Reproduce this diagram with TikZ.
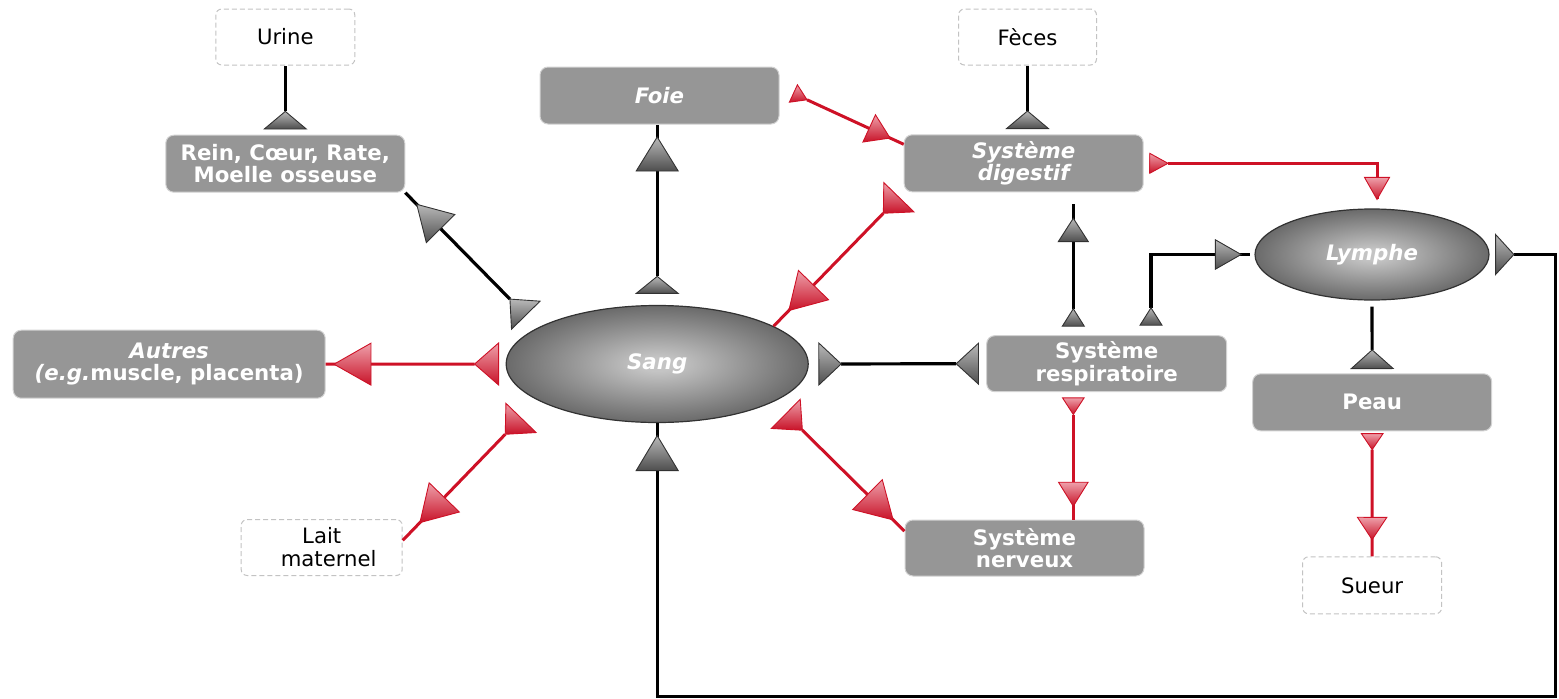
\documentclass[tikz,border=0pt]{standalone}
\usepackage{fontspec}
\setmainfont{DejaVu Sans}
\usetikzlibrary{calc,shapes.geometric}

\definecolor{boxgray}{RGB}{150,150,150}
\definecolor{boxedge}{RGB}{210,210,210}
\definecolor{linkred}{RGB}{206,17,38}
\definecolor{dashgray}{RGB}{195,195,195}
\definecolor{ellin}{RGB}{196,196,196}
\definecolor{ellout}{RGB}{86,86,86}
\definecolor{elledge}{RGB}{50,50,50}
\definecolor{trilight}{RGB}{185,185,185}
\definecolor{tridark}{RGB}{78,78,78}
\definecolor{triedge}{RGB}{50,50,50}
\definecolor{redlight}{RGB}{238,160,170}
\definecolor{reddark}{RGB}{200,18,40}

% soft radial fill of the two body-fluid ellipses
\pgfdeclareradialshading{fluidshade}{\pgfpoint{0bp}{0bp}}{%
  color(0bp)=(ellin); color(3bp)=(ellin); color(30bp)=(ellout); color(50bp)=(ellout)}

% flow marker: #1 style, #2 point the base is measured from, #3 point giving the
% direction, #4 distance of the base, #5 signed height (+ = towards #3), #6 half base
\newcommand\flowtip[6]{%
  \coordinate (tip-base) at ($(#2)!#4pt!(#3)$);
  \path[#1] ($(tip-base)!#5pt!(#3)$) -- ($(tip-base)!#6pt!90:(#3)$)
            -- ($(tip-base)!#6pt!-90:(#3)$) -- cycle;
}

\tikzset{
  organ/.style={rectangle, rounded corners=8pt, fill=boxgray, draw=boxedge,
    line width=1pt, text=white, align=center, inner sep=0pt,
    font=\bfseries\fontsize{21.3}{22.5}\selectfont},
  organit/.style={organ, font=\bfseries\itshape\fontsize{21.3}{22.5}\selectfont},
  fluid/.style={ellipse, draw=elledge, line width=1.2pt, shading=fluidshade,
    text=white, inner sep=0pt,
    font=\bfseries\itshape\fontsize{21.3}{22.5}\selectfont},
  outlet/.style={rectangle, rounded corners=6pt, draw=dashgray,
    dash pattern=on 5pt off 3pt, line width=1pt, fill=white, align=center,
    inner sep=0pt, font=\fontsize{21.2}{23}\selectfont},
  blackflow/.style={draw=black, line width=3.2pt},
  redflow/.style={draw=linkred, line width=3pt},
  graytri/.style={draw=triedge, line width=0.9pt, top color=trilight, bottom color=tridark},
  redtri/.style={draw=linkred, line width=0.9pt, top color=redlight, bottom color=reddark},
}

\begin{document}
\begin{tikzpicture}[x=1pt, y=1pt]
\useasboundingbox (0,0) rectangle (1559,-699);

% ---- nodes
\node[outlet, minimum width=139pt, minimum height=56pt] (urine) at (285.3,-37) {Urine};
\node[organ, minimum width=239pt, minimum height=57pt] (rein) at (285.3,-163.7) {Rein, Cœur, Rate,\\Moelle osseuse};
\node[organit, minimum width=239pt, minimum height=57pt] (foie) at (659.5,-95.5) {Foie};
\node[outlet, minimum width=138pt, minimum height=56pt] (feces) at (1027.5,-37) {Fèces};
\node[organit, minimum width=239pt, minimum height=57pt] (dig) at (1023.7,-163.3) {Système\\digestif};
\node[fluid, minimum width=234pt, minimum height=91pt] (lymphe) at (1372,-254.5) {Lymphe};
\node[organ, minimum width=312pt, minimum height=68pt] (autres) at (169.2,-364.2) {{\itshape Autres}\\{\itshape(e.g.}muscle, placenta)};
\node[fluid, minimum width=302pt, minimum height=117pt] (sang) at (657.2,-364) {Sang};
\node[organ, minimum width=240pt, minimum height=56pt] (resp) at (1106.7,-363.7) {Système\\respiratoire};
\node[organ, minimum width=239pt, minimum height=57pt] (peau) at (1372.2,-402.3) {Peau};
\node[outlet, minimum width=161pt, minimum height=56pt] (lait) at (321.7,-547.5) {Lait\\\hspace*{14pt}maternel};
\node[organ, minimum width=239pt, minimum height=56pt] (nerv) at (1024.5,-548) {Système\\nerveux};
\node[outlet, minimum width=139pt, minimum height=57pt] (sueur) at (1372.1,-585.3) {Sueur};

% ---- helper points
\coordinate (foie-in) at (sang.north |- foie.south);
\coordinate (feces-out) at (feces.south |- dig.north);
\coordinate (lymphe-top) at ([xshift=5pt]lymphe.north);
\coordinate (dig-bend) at (lymphe-top |- dig.east);
\coordinate (resp-up) at ([xshift=-33.4pt]resp.north);
\coordinate (dig-down) at (resp-up |- dig.south);
\coordinate (resp-up2) at ([xshift=44.3pt]resp.north);
\coordinate (lymphe-bend) at (resp-up2 |- lymphe.west);
\coordinate (resp-down) at (resp-up |- resp.south);
\coordinate (nerv-in) at (resp-up |- nerv.north);
\coordinate (loop-corner) at (1555.5,-696.7);
\coordinate (loop-top) at (loop-corner |- lymphe.east);
\coordinate (loop-foot) at (sang.south |- loop-corner);

% ---- connectors
% Rein -> Urine
\draw[blackflow, shorten <=23.3pt] (rein.north) -- (urine.south);
\flowtip{graytri}{rein.north}{urine.south}{5.7}{17.6}{21}

% Sang -> Foie
\draw[blackflow, shorten <=28.5pt] (sang.north) -- (foie-in);
\flowtip{graytri}{sang.north}{foie-in}{11.5}{17}{21}
\flowtip{graytri}{foie-in}{sang.north}{46.5}{-34}{21}

% Sang -> Rein
\draw[blackflow, shorten <=39.9pt] (sang.163) -- (rein.south east);
\flowtip{graytri}{sang.163}{rein.south east}{17.3}{22.6}{20}
\flowtip{graytri}{rein.south east}{sang.163}{50.3}{-34}{20}

% Sang -> Autres
\draw[redflow, shorten <=31pt] (sang.west) -- (autres.east);
\flowtip{redtri}{sang.west}{autres.east}{7}{24}{21}
\flowtip{redtri}{autres.east}{sang.west}{45.3}{-37}{21}

% Sang -> Lait maternel
\draw[redflow, shorten <=47pt] (sang.197) -- (lait.5);
\flowtip{redtri}{sang.197}{lait.5}{24.3}{22.7}{21}
\flowtip{redtri}{lait.5}{sang.197}{59.8}{-35}{21}

% Systeme digestif -> Sang
\draw[redflow, shorten <=29.2pt] (dig.south west) -- (sang.18);
\flowtip{redtri}{dig.south west}{sang.18}{6.9}{22.3}{21}
\flowtip{redtri}{sang.18}{dig.south west}{57.2}{-35.4}{21}

% Foie -> Systeme digestif
\draw[redflow, shorten <=30.3pt] (foie.4) -- (dig.171);
\flowtip{redtri}{foie.4}{dig.171}{15.3}{15}{9.6}
\flowtip{redtri}{dig.171}{foie.4}{38}{-23}{15}

% Systeme digestif -> Feces
\draw[blackflow, shorten <=23.3pt] (feces-out) -- (feces.south);
\flowtip{graytri}{feces-out}{feces.south}{5.7}{17.6}{21}

% Systeme digestif -> Lymphe
\draw[redflow, shorten <=24.3pt, shorten >=9pt] (dig.east) -- (dig-bend) -- (lymphe-top);
\flowtip{redtri}{dig.east}{dig-bend}{6}{18.3}{10}
\flowtip{redtri}{lymphe-top}{dig-bend}{31}{-22}{12.5}

% Systeme respiratoire -> Systeme digestif
\draw[blackflow, shorten <=26.4pt, shorten >=11.6pt] (resp-up) -- (dig-down);
\flowtip{graytri}{resp-up}{dig-down}{9}{17.4}{11}
\flowtip{graytri}{dig-down}{resp-up}{49.3}{-23.3}{15}

% Systeme respiratoire -> Lymphe
\draw[blackflow, shorten <=27.4pt, shorten >=4.3pt] (resp-up2) -- (lymphe-bend) -- (lymphe.west);
\flowtip{graytri}{resp-up2}{lymphe-bend}{10}{17.4}{11}
\flowtip{graytri}{lymphe.west}{lymphe-bend}{39}{-25.7}{14.7}

% Sang -> Systeme nerveux
\draw[redflow, shorten <=40.4pt] (sang.342) -- (nerv.172);
\flowtip{redtri}{sang.342}{nerv.172}{17.1}{23.3}{20.5}
\flowtip{redtri}{nerv.172}{sang.342}{52}{-36}{21}

% Sang <-> Systeme respiratoire
\draw[blackflow, shorten <=32.4pt, shorten >=30pt] (sang.east) -- (resp.west);
\flowtip{graytri}{sang.east}{resp.west}{10}{22.4}{21}
\flowtip{graytri}{resp.west}{sang.east}{7.7}{22.3}{20.5}

% Systeme respiratoire -> Systeme nerveux
\draw[redflow, shorten <=22.3pt] (resp-down) -- (nerv-in);
\flowtip{redtri}{resp-down}{nerv-in}{5.6}{16.7}{10.8}
\flowtip{redtri}{nerv-in}{resp-down}{37.3}{-24}{14.8}

% Peau -> Sueur
\draw[redflow, shorten <=18.3pt] (peau.south) -- (sueur.north);
\flowtip{redtri}{peau.south}{sueur.north}{2.3}{16}{10.8}
\flowtip{redtri}{sueur.north}{peau.south}{39}{-22.3}{14.7}

% Peau -> Lymphe
\draw[blackflow, shorten <=23.4pt, shorten >=6pt] (peau.north) -- (lymphe.south);
\flowtip{graytri}{peau.north}{lymphe.south}{4.7}{18.7}{21}

% Lymphe -> Sang (return loop)
\draw[blackflow, shorten <=24.3pt] (lymphe.east) -- (loop-top) -- (loop-corner) -- (loop-foot) -- (sang.south);
\flowtip{graytri}{lymphe.east}{loop-top}{6}{18.3}{20}
\flowtip{graytri}{sang.south}{loop-foot}{47.5}{-35}{21}

\end{tikzpicture}
\end{document}
